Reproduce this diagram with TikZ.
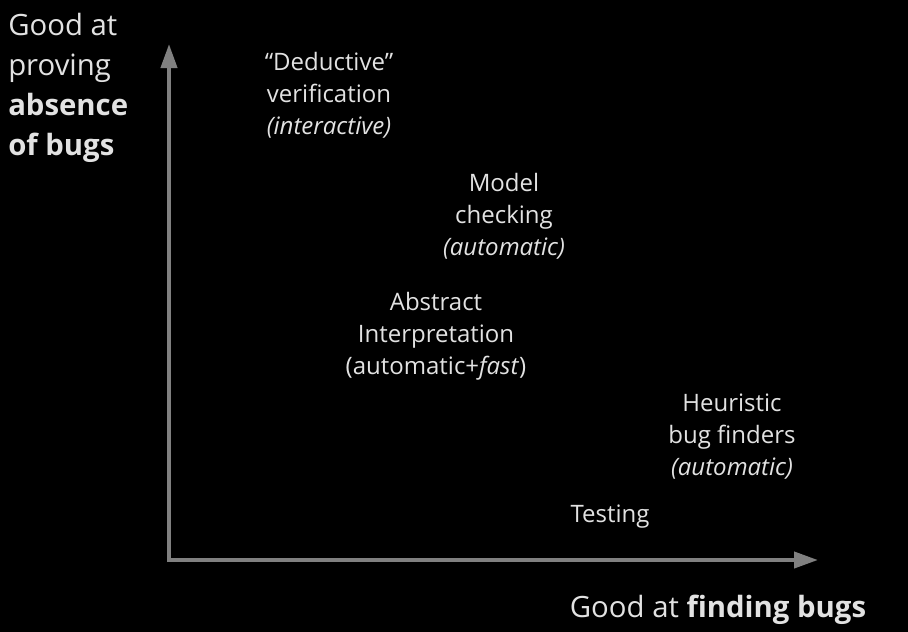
\documentclass[tikz,border=0pt]{standalone}
\usepackage{fontspec}
\setmainfont{Open Sans}
\definecolor{labelgray}{RGB}{226, 226, 226}
\definecolor{axisgray}{RGB}{128, 128, 128}
\usetikzlibrary{arrows.meta}

\begin{document}
\begin{tikzpicture}[x=0.75pt, y=-0.75pt,
  method/.style={text=labelgray, align=center, inner sep=0pt, font=\fontsize{18}{24}\selectfont},
  axislabel/.style={text=labelgray, inner sep=0pt, font=\fontsize{22}{30}\selectfont},
  axis/.style={draw=axisgray, line width=3pt, -{Triangle[length=18pt, width=12pt]}}]
  % background and size
  \fill[black] (0, 0) rectangle (908, 632);
  \useasboundingbox (0, 0) rectangle (908, 632);

  % axes
  \coordinate (origin) at (169, 560);
  \coordinate (ytip) at (169, 44);
  \coordinate (xtip) at (818, 560);
  \draw[axis] ([yshift=-1.5pt]origin) -- (ytip);
  \draw[axis] ([xshift=-1.5pt]origin) -- (xtip);

  % axis labels
  \node[axislabel, align=left, anchor=west] (proving) at (8, 88) {
    Good at\\
    proving\\
    \textbf{absence}\\
    \textbf{of bugs}
  };
  \node[axislabel] (finding) at (718, 610) {Good at \textbf{finding bugs}};

  % the approaches
  \node[method] (deductive) at (329, 95) {
    “Deductive”\\
    verification\\
    \textit{(interactive)}
  };
  \node[method] (modelcheck) at (504, 216) {
    Model\\
    checking\\
    \textit{(automatic)}
  };
  \node[method] (absint) at (436, 336) {
    Abstract\\
    Interpretation\\
    (automatic+\textit{fast})
  };
  \node[method] (heuristic) at (732, 437) {
    Heuristic\\
    bug finders\\
    \textit{(automatic)}
  };
  \node[method] (testing) at (610, 517) {Testing};
\end{tikzpicture}
\end{document}
